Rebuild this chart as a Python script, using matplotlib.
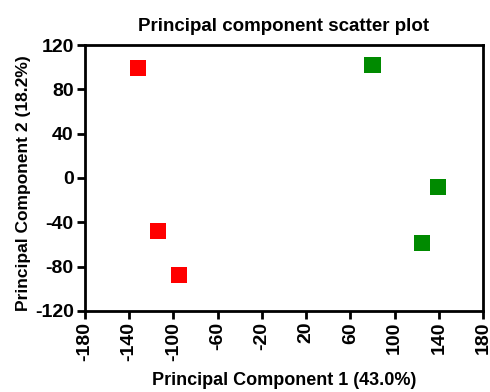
import matplotlib.pyplot as plt

plt.rcParams['font.family'] = ['Liberation Sans', 'DejaVu Sans']
plt.rcParams['font.weight'] = 'bold'

# group 1 (red) and group 2 (green) scores
pc1_red = [-132, -114, -95]
pc2_red = [99, -48, -88]
pc1_green = [80, 139, 125]
pc2_green = [102, -8, -59]

xticks = list(range(-180, 181, 40))
yticks = list(range(-120, 121, 40))

fig = plt.figure(figsize=(4.9, 3.92), dpi=100)
ax = fig.add_axes([0.173, 0.207, 0.813, 0.678])

ax.scatter(pc1_red, pc2_red, marker='s', s=135, color='#ff0000', edgecolors='none')
ax.scatter(pc1_green, pc2_green, marker='s', s=135, color='#008a00', edgecolors='none')

ax.set_xlim(-180, 180)
ax.set_ylim(-120, 120)
ax.set_xticks(xticks)
ax.set_yticks(yticks)
ax.set_xticklabels([str(t) for t in xticks], rotation=90, fontsize=14, fontweight='bold')
ax.set_yticklabels([str(t) for t in yticks], fontsize=14, fontweight='bold')

for sp in ax.spines.values():
    sp.set_linewidth(2)
ax.tick_params(width=2, length=6, pad=2)

ax.set_xlabel('Principal Component 1 (43.0%)', fontsize=13, fontweight='bold', labelpad=8)
ax.set_ylabel('Principal Component 2 (18.2%)', fontsize=12.5, fontweight='bold')
ax.yaxis.set_label_coords(-0.135, 0.48)
ax.set_title('Principal component scatter plot', fontsize=13.5, fontweight='bold', pad=10)

fig.savefig('out.png', dpi=100)
